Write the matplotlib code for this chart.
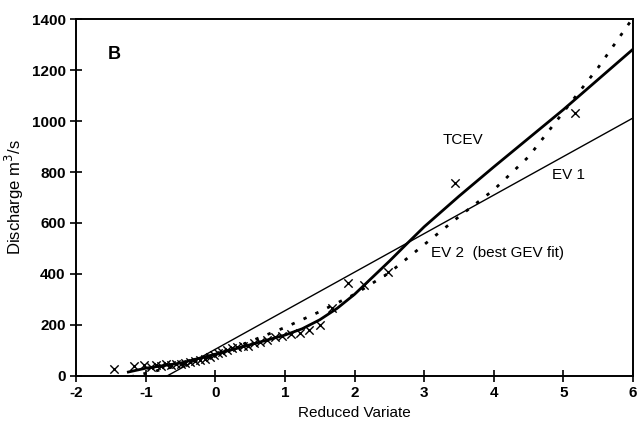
import matplotlib
matplotlib.use("Agg")
import matplotlib.pyplot as plt
from matplotlib import font_manager

# ---- data ----
obs_x = [-1.45, -1.17, -1.02, -0.93, -0.85, -0.78, -0.71, -0.64, -0.57, -0.50,
         -0.43, -0.36, -0.29, -0.22, -0.15, -0.08, -0.02, 0.04, 0.10, 0.17,
         0.24, 0.31, 0.39, 0.47, 0.55, 0.64, 0.74, 0.85, 0.96, 1.08,
         1.21, 1.35, 1.50, 1.67, 1.90, 2.14, 2.48, 3.44, 5.17]
obs_y = [28, 38, 42, 36, 44, 40, 46, 43, 48, 45,
         52, 55, 58, 63, 66, 75, 82, 88, 95, 102,
         110, 114, 118, 116, 127, 132, 142, 152, 158, 165,
         169, 180, 200, 267, 365, 357, 408, 757, 1031]

ev1_x = [-0.69, 6.0]
ev1_y = [0, 1012]

tcev_x = [-1.25, -1.0, -0.5, 0.0, 0.5, 1.0, 1.25, 1.5, 1.75, 2.0, 2.25, 2.5, 2.75, 3.0, 3.5, 4.0, 5.0, 6.0]
tcev_y = [15, 30, 50, 85, 122, 160, 185, 220, 265, 320, 385, 450, 518, 585, 705, 820, 1045, 1282]

ev2_x = [-1.4, -1.0, -0.5, 0.0, 0.5, 1.0, 1.5, 2.0, 2.5, 3.0, 3.5, 4.0, 4.5, 5.0, 5.5, 6.0]
ev2_y = [-15, 10, 42, 80, 135, 190, 252, 320, 405, 515, 625, 730, 860, 1035, 1210, 1405]

xticks = [-2, -1, 0, 1, 2, 3, 4, 5, 6]
yticks = [0, 200, 400, 600, 800, 1000, 1200, 1400]

names = {f.name for f in font_manager.fontManager.ttflist}
fam = 'Liberation Sans Narrow' if 'Liberation Sans Narrow' in names else 'Liberation Sans'
plt.rcParams['font.family'] = [fam, 'DejaVu Sans']
plt.rcParams['axes.unicode_minus'] = False

fig = plt.figure(figsize=(6.4, 4.36), dpi=100)
ax = fig.add_axes([0.119, 0.138, 0.870, 0.818])

ax.plot(ev1_x, ev1_y, color='black', lw=1.0, zorder=2)
ax.plot(tcev_x, tcev_y, color='black', lw=2.0, zorder=3)
ax.plot(ev2_x, ev2_y, color='black', lw=2.0, linestyle=(0, (1.2, 3.5)), zorder=3)
ax.scatter(obs_x, obs_y, marker='x', color='black', s=36, linewidths=1.0, zorder=4)

ax.set_xlim(-2, 6)
ax.set_ylim(0, 1400)
ax.set_xticks(xticks)
ax.set_yticks(yticks)
ax.tick_params(direction='inout', length=8, width=1.2, labelsize=11)
for lab in ax.get_xticklabels() + ax.get_yticklabels():
    lab.set_fontweight('bold')
for s in ax.spines.values():
    s.set_linewidth(1.4)

ax.set_xlabel('Reduced Variate', fontsize=11)
ax.set_ylabel('Discharge m$^3$/s', fontsize=12)

ax.text(-1.55, 1260, 'B', fontsize=13, fontweight='bold', va='center', ha='left')
ax.text(3.55, 925, 'TCEV', fontsize=11, va='center', ha='center')
ax.text(5.07, 790, 'EV 1', fontsize=11, va='center', ha='center')
ax.text(3.1, 482, 'EV 2  (best GEV fit)', fontsize=11, va='center', ha='left')

fig.savefig('out.png', dpi=100)
